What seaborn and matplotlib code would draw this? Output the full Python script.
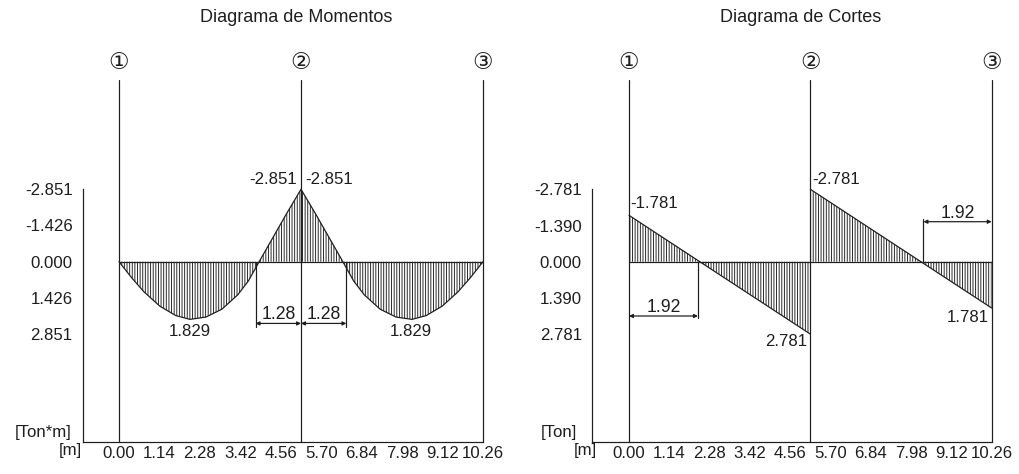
import matplotlib
matplotlib.use('Agg')
import matplotlib.pyplot as plt
import seaborn as sns
import pandas as pd

# ---------------- data ----------------
support_x = [0.0, 5.13, 10.26]
support_names = ['①', '②', '③']

x_ticks = [0.00, 1.14, 2.28, 3.42, 4.56, 5.70, 6.84, 7.98, 9.12, 10.26]
x_tick_labels = ['0.00', '1.14', '2.28', '3.42', '4.56', '5.70', '6.84', '7.98', '9.12', '10.26']

# moment diagram (positive plotted downwards)
mom_x = [0.0, 0.35, 0.7, 1.15, 1.6, 2.0, 2.45, 2.9, 3.35, 3.65, 3.95, 4.35, 4.73, 5.13,
         5.53, 5.91, 6.31, 6.61, 6.91, 7.36, 7.81, 8.26, 8.66, 9.11, 9.56, 9.91, 10.26]
mom_v = [0.0, 0.62, 1.18, 1.75, 2.12, 2.27, 2.18, 1.87, 1.30, 0.75, 0.0, -0.98, -1.91, -2.851,
         -1.91, -0.98, 0.0, 0.75, 1.30, 1.87, 2.18, 2.27, 2.12, 1.75, 1.18, 0.62, 0.0]
mom_ticks = [-2.851, -1.426, 0.0, 1.426, 2.851]
mom_tick_labels = ['-2.851', '-1.426', '0.000', '1.426', '2.851']
mom_value_labels = ['-2.851', '-2.851', '1.829', '1.829']
mom_dims = [(3.85, 5.13, '1.28'), (5.13, 6.41, '1.28')]

# shear diagram
shear_x = [0.0, 5.13, 5.13, 10.26]
shear_v = [-1.781, 2.781, -2.781, 1.781]
shear_span = [1, 1, 2, 2]
shear_ticks = [-2.781, -1.390, 0.0, 1.390, 2.781]
shear_tick_labels = ['-2.781', '-1.390', '0.000', '1.390', '2.781']
shear_value_labels = ['-1.781', '2.781', '-2.781', '1.781']
shear_dims = [(0.0, 1.95, '1.92'), (8.33, 10.26, '1.92')]

# ---------------- style ----------------
W, H, DPI = 1019, 474, 110
sns.set_theme(style='white')
plt.rcParams['font.family'] = ['Liberation Sans', 'DejaVu Sans', 'Noto Sans CJK SC']
plt.rcParams['hatch.linewidth'] = 0.6
INK = '#1e1e1e'
FS = 11
LW = 0.8
HATCH = '|||||||'

fig = plt.figure(figsize=(W / DPI, H / DPI), dpi=DPI)


def px_axes(left, right, top, bottom):
    return fig.add_axes([left / W, 1 - bottom / H, (right - left) / W, (bottom - top) / H])


def setup(ax, xlim, ylim, yticks, ylabels, ytop):
    ax.set_xlim(*xlim)
    ax.set_ylim(*ylim)
    ax.set_facecolor('none')
    for s in ['top', 'right']:
        ax.spines[s].set_visible(False)
    for s in ['left', 'bottom']:
        ax.spines[s].set_color(INK)
        ax.spines[s].set_linewidth(LW)
    ax.spines['left'].set_bounds(ylim[0], ytop)
    ax.set_xticks(x_ticks)
    ax.set_xticklabels(x_tick_labels, fontsize=FS, color=INK)
    ax.set_yticks(yticks)
    ax.set_yticklabels(ylabels, fontsize=FS, color=INK)
    ax.tick_params(axis='x', direction='out', length=2.6, width=LW, pad=0.0, color=INK)
    ax.tick_params(axis='y', direction='out', length=4, width=LW, pad=2.5, color=INK)
    ax.set_xlabel('')
    ax.set_ylabel('')
    for xs, name in zip(support_x, support_names):
        ax.axvline(xs, color=INK, lw=LW, clip_on=False)
        ax.annotate(name, xy=(xs, 1), xycoords=('data', 'axes fraction'),
                    xytext=(0, 18), textcoords='offset pixels', ha='center', va='center',
                    fontsize=15, color=INK,
                    family=['DejaVu Sans', 'Noto Sans CJK SC'])
    ax.hlines(0, support_x[0], support_x[-1], color=INK, lw=LW)


def dim(ax, x0, x1, y, text, ext_x=None, ext_end=None):
    ax.annotate('', xy=(x0, y), xytext=(x1, y),
                arrowprops=dict(arrowstyle='<|-|>', color=INK, lw=LW,
                                mutation_scale=5, shrinkA=0, shrinkB=0))
    ax.text((x0 + x1) / 2, y, text, ha='center', va='bottom', fontsize=FS + 0.5, color=INK)
    if ext_x is not None:
        ax.plot([ext_x, ext_x], [0, ext_end], color=INK, lw=LW)


# ---------------- moments ----------------
ax1 = px_axes(82.5, 483, 80, 442)
mdf = pd.DataFrame({'x': mom_x, 'M': mom_v})
ax1.fill_between(mdf['x'], 0, mdf['M'], hatch=HATCH, facecolor='none',
                 edgecolor=INK, linewidth=0)
sns.lineplot(data=mdf, x='x', y='M', ax=ax1, color=INK, lw=LW, sort=False, estimator=None)
setup(ax1, (-1.029, 10.26), (7.098, -7.154), mom_ticks, mom_tick_labels, mom_ticks[0])

ax1.text(5.03, -3.22, mom_value_labels[0], ha='right', va='center', fontsize=FS, color=INK)
ax1.text(5.25, -3.22, mom_value_labels[1], ha='left', va='center', fontsize=FS, color=INK)
ax1.text(2.0, 2.76, mom_value_labels[2], ha='center', va='center', fontsize=FS, color=INK)
ax1.text(8.22, 2.76, mom_value_labels[3], ha='center', va='center', fontsize=FS, color=INK)
dim(ax1, mom_dims[0][0], mom_dims[0][1], 2.43, mom_dims[0][2], mom_dims[0][0], 2.58)
dim(ax1, mom_dims[1][0], mom_dims[1][1], 2.43, mom_dims[1][2], mom_dims[1][1], 2.58)

# ---------------- shear ----------------
ax2 = px_axes(591.7, 991.7, 80, 442)
sdf = pd.DataFrame({'x': shear_x, 'V': shear_v, 'span': shear_span})
for sp in sorted(set(shear_span)):
    part = sdf[sdf['span'] == sp]
    ax2.fill_between(part['x'], 0, part['V'], hatch=HATCH, facecolor='none',
                     edgecolor=INK, linewidth=0)
sns.lineplot(data=sdf, x='x', y='V', units='span', estimator=None, ax=ax2,
             color=INK, lw=LW, sort=False)
setup(ax2, (-1.055, 10.26), (6.924, -6.978), shear_ticks, shear_tick_labels, shear_ticks[0])

ax2.text(0.03, -2.25, shear_value_labels[0], ha='left', va='center', fontsize=FS, color=INK)
ax2.text(5.05, 3.07, shear_value_labels[1], ha='right', va='center', fontsize=FS, color=INK)
ax2.text(5.18, -3.14, shear_value_labels[2], ha='left', va='center', fontsize=FS, color=INK)
ax2.text(10.18, 2.16, shear_value_labels[3], ha='right', va='center', fontsize=FS, color=INK)
dim(ax2, shear_dims[0][0], shear_dims[0][1], 2.085, shear_dims[0][2], shear_dims[0][1], 2.17)
dim(ax2, shear_dims[1][0], shear_dims[1][1], -1.536, shear_dims[1][2], shear_dims[1][0], -1.64)

# ---------------- titles & units ----------------
def ftext(x, y, s, **kw):
    fig.text(x / W, 1 - y / H, s, ha='center', va='center', color=INK, **kw)

ftext(296, 17, 'Diagrama de Momentos', fontsize=11.8)
ftext(801, 17, 'Diagrama de Cortes', fontsize=11.8)
ftext(42.7, 433, '[Ton*m]', fontsize=FS)
ftext(70.7, 450, '[m]', fontsize=FS)
ftext(559, 433, '[Ton]', fontsize=FS)
ftext(585.7, 450, '[m]', fontsize=FS)

fig.savefig('out.png', dpi=DPI, facecolor='white')
